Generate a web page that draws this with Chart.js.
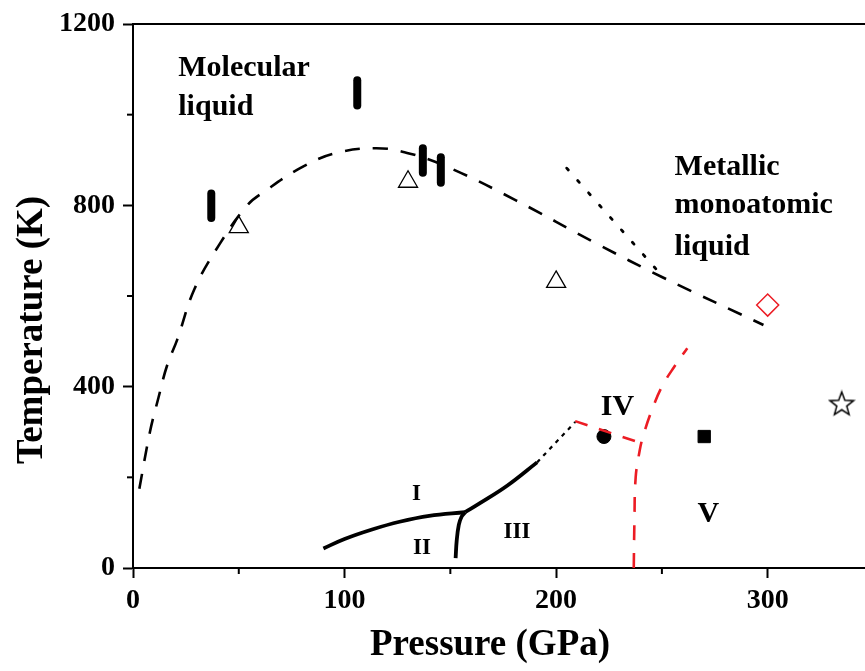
<!DOCTYPE html>
<html>
<head>
<meta charset="utf-8">
<script src="https://cdn.jsdelivr.net/npm/chart.js@4.4.1/dist/chart.umd.min.js"></script>
<style>
  html, body { margin: 0; padding: 0; background: #fff; }
  #wrap { width: 865px; height: 671px; }
</style>
</head>
<body>
<div id="wrap"><canvas id="phaseChart" width="865" height="671"></canvas></div>
<script>
// Phase diagram: pressure (GPa) vs temperature (K)

// melting line (dashed)
const meltP = [3, 8, 12, 16, 21, 29, 41, 54, 62, 79, 95, 115, 131, 150, 181, 219, 250, 298];
const meltT = [175, 300, 375, 445, 505, 615, 715, 800, 830, 882, 914, 926, 914, 882, 811, 716, 642, 536];

// dotted line into the metallic liquid
const dotP = [205, 250];
const dotT = [882, 645];

// solid phase boundaries
const i2P = [90, 100, 113, 126, 140, 157];
const i2T = [43, 64, 85, 102, 115, 123];
const ii3P = [152.5, 153, 154, 155.3, 157];
const ii3T = [22, 60, 95, 113, 123];
const i3P = [157, 164, 177, 191];
const i3T = [123, 143, 182, 233];
const extP = [191, 209];
const extT = [233, 322];

// red dashed boundaries (IV / V)
const redTopP = [209, 240.5];
const redTopT = [324, 275];
const redVP = [236.7, 237, 237.6, 239.5, 241, 245, 250, 256, 262];
const redVT = [0, 100, 200, 259, 289, 345, 400, 445, 485];

// thick vertical bars
const barP = [37, 106, 137, 145.5];
const barLo = [772, 1020, 872, 850];
const barHi = [826, 1076, 926, 906];

// markers
const triP = [50, 130, 200];
const triT = [752, 852, 631];
const diamondP = [300], diamondT = [580];
const starP = [335], starT = [363];
const circleP = [222.6], circleT = [290];
const squareP = [270], squareT = [290];

// ticks
const xMajor = [0, 100, 200, 300];
const xMinor = [50, 150, 250];
const yMajor = [0, 400, 800, 1200];
const yMinor = [200, 600, 1000];

// text
const liquidText = ['Molecular', 'liquid', 'Metallic', 'monoatomic', 'liquid'];
const liquidP = [21.4, 21.4, 256, 256, 256];
const liquidT = [1085, 999, 866, 782, 690];
const romanSmall = ['I', 'II', 'III'];
const romanSmallP = [134, 136.6, 181.5];
const romanSmallT = [151, 30, 67];
const romanBig = ['IV', 'V'];
const romanBigP = [229, 272];
const romanBigT = [337, 101];

const SERIF = "'Liberation Serif', 'DejaVu Serif', serif";
const RED = '#ec1c24';

const pts = (xs, ys) => xs.map((v, i) => ({ x: v, y: ys[i] }));

function makeStar(size) {
  const c = document.createElement('canvas');
  c.width = c.height = size;
  const g = c.getContext('2d');
  const cx = size / 2, cy = size / 2 + 1, R = size / 2 - 1.5, r = R * 0.42;
  g.beginPath();
  for (let i = 0; i < 10; i++) {
    const a = -Math.PI / 2 + i * Math.PI / 5;
    const rad = i % 2 ? r : R;
    g.lineTo(cx + rad * Math.cos(a), cy + rad * Math.sin(a));
  }
  g.closePath();
  g.lineWidth = 1.5;
  g.strokeStyle = '#000';
  g.stroke();
  return c;
}

function lineSet(data, opts) {
  return Object.assign({
    data: data,
    showLine: true,
    fill: false,
    pointRadius: 0,
    borderColor: '#000',
    borderWidth: 2.6,
    tension: 0.4
  }, opts);
}

const datasets = [
  lineSet(pts(meltP, meltT), { borderDash: [15, 13] }),
  lineSet(pts(dotP, dotT), { borderDash: [2.5, 14], borderWidth: 2.8, borderCapStyle: 'round', tension: 0 }),
  lineSet(pts(i2P, i2T), { borderWidth: 3.8 }),
  lineSet(pts(ii3P, ii3T), { borderWidth: 3.8 }),
  lineSet(pts(i3P, i3T), { borderWidth: 3.8 }),
  lineSet(pts(extP, extT), { borderDash: [4, 5], borderWidth: 2.2, tension: 0 }),
  lineSet(pts(redTopP, redTopT), { borderColor: RED, borderDash: [13, 12], tension: 0 }),
  lineSet(pts(redVP, redVT), { borderColor: RED, borderDash: [15, 13] })
];

barP.forEach((p, i) => {
  datasets.push(lineSet([{ x: p, y: barLo[i] }, { x: p, y: barHi[i] }],
    { borderWidth: 8, borderCapStyle: 'round', tension: 0 }));
});

datasets.push(
  { data: pts(triP, triT), pointStyle: 'triangle', pointRadius: 11, borderColor: '#000', borderWidth: 1.3, backgroundColor: 'rgba(0,0,0,0)' },
  { data: pts(diamondP, diamondT), pointStyle: 'rectRot', pointRadius: 11, borderColor: RED, borderWidth: 1.5, backgroundColor: 'rgba(0,0,0,0)' },
  { data: pts(starP, starT), pointStyle: makeStar(28), pointRadius: 14 },
  { data: pts(circleP, circleT), pointStyle: 'circle', pointRadius: 7, borderColor: '#000', backgroundColor: '#000' },
  { data: pts(squareP, squareT), pointStyle: 'rect', pointRadius: 8.7, borderColor: '#000', backgroundColor: '#000' }
);

const decor = {
  id: 'decor',
  afterDraw(chart) {
    const { ctx, chartArea: a } = chart;
    const x = chart.scales.x, y = chart.scales.y;
    ctx.save();
    // minor ticks
    ctx.strokeStyle = '#000';
    ctx.lineWidth = 2;
    xMinor.forEach(v => {
      const px = x.getPixelForValue(v);
      ctx.beginPath(); ctx.moveTo(px, a.bottom); ctx.lineTo(px, a.bottom + 6); ctx.stroke();
    });
    yMinor.forEach(v => {
      const py = y.getPixelForValue(v);
      ctx.beginPath(); ctx.moveTo(a.left, py); ctx.lineTo(a.left - 6, py); ctx.stroke();
    });

    ctx.fillStyle = '#000';
    ctx.textBaseline = 'alphabetic';
    ctx.textAlign = 'left';
    ctx.font = 'bold 30px ' + SERIF;
    liquidText.forEach((s, i) => ctx.fillText(s, x.getPixelForValue(liquidP[i]), y.getPixelForValue(liquidT[i])));

    ctx.textAlign = 'center';
    ctx.font = 'bold 23px ' + SERIF;
    romanSmall.forEach((s, i) => ctx.fillText(s, x.getPixelForValue(romanSmallP[i]), y.getPixelForValue(romanSmallT[i])));
    ctx.font = 'bold 30px ' + SERIF;
    romanBig.forEach((s, i) => ctx.fillText(s, x.getPixelForValue(romanBigP[i]), y.getPixelForValue(romanBigT[i])));

    // axis titles
    ctx.font = 'bold 37px ' + SERIF;
    ctx.fillText('Pressure (GPa)', 490, 655);
    ctx.translate(42, 330);
    ctx.rotate(-Math.PI / 2);
    ctx.fillText('Temperature (K)', 0, 0);
    ctx.restore();
  }
};

const tickFont = { family: SERIF, weight: 'bold', size: 28 };
const noPad = s => { s.paddingLeft = 0; s.paddingRight = 0; s.paddingTop = 0; s.paddingBottom = 0; };

new Chart(document.getElementById('phaseChart'), {
  type: 'scatter',
  data: { datasets: datasets },
  options: {
    responsive: false,
    animation: false,
    layout: { autoPadding: false, padding: { left: 0, right: 0, top: 24, bottom: 0 } },
    plugins: { legend: { display: false }, tooltip: { enabled: false } },
    scales: {
      x: {
        type: 'linear', min: 0, max: 346,
        afterBuildTicks: s => { s.ticks = xMajor.map(v => ({ value: v })); },
        afterFit: s => { s.height = 103; noPad(s); },
        grid: { drawOnChartArea: false, tickLength: 10, tickWidth: 2, tickColor: '#000' },
        border: { color: '#000', width: 2 },
        ticks: { color: '#000', font: tickFont, padding: 6, maxRotation: 0, callback: v => String(v) }
      },
      x2: {
        type: 'linear', position: 'top', min: 0, max: 346,
        afterFit: s => { s.height = 0; noPad(s); },
        grid: { display: false },
        border: { display: true, color: '#000', width: 2 },
        ticks: { display: false }
      },
      y: {
        type: 'linear', min: 0, max: 1200,
        afterBuildTicks: s => { s.ticks = yMajor.map(v => ({ value: v })); },
        afterFit: s => { s.width = 133; noPad(s); },
        grid: { drawOnChartArea: false, tickLength: 10, tickWidth: 2, tickColor: '#000' },
        border: { color: '#000', width: 2 },
        ticks: { color: '#000', font: tickFont, padding: 8, callback: v => String(v) }
      }
    }
  },
  plugins: [decor]
});
</script>
</body>
</html>
